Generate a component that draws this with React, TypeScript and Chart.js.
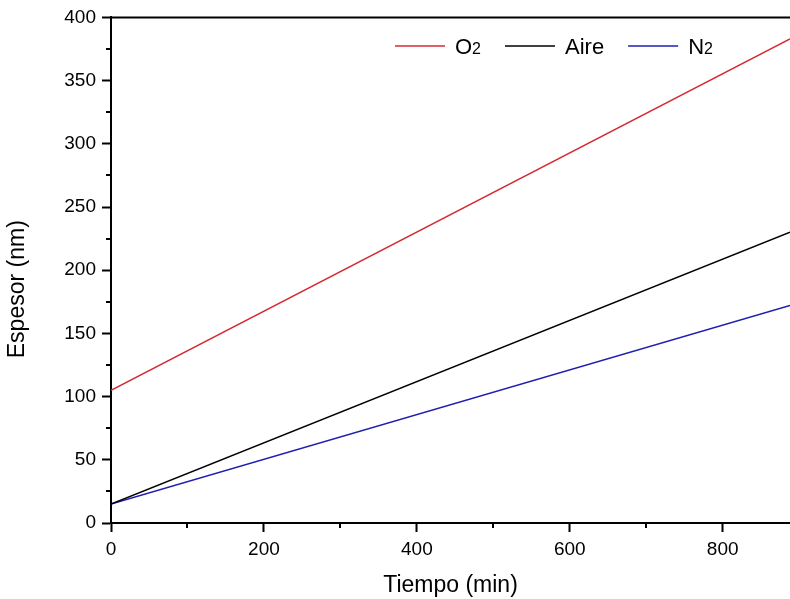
import React, { useEffect, useRef } from "react";
import { Chart, registerables } from "chart.js";

Chart.register(...registerables);

// Data
const timeMin = [0, 888];
const o2Thickness = [105, 383];
const aireThickness = [15, 230];
const n2Thickness = [15, 172];
const seriesLabels = ["O₂", "Aire", "N₂"];
const seriesColors = ["#d42a30", "#000000", "#1e1eb0"];
const xMajorTicks = [0, 200, 400, 600, 800];
const xMinorTicks = [100, 300, 500, 700];
const yMajorTicks = [0, 50, 100, 150, 200, 250, 300, 350, 400];
const yMinorTicks = [25, 75, 125, 175, 225, 275, 325, 375];
const xTitle = "Tiempo (min)";
const yTitle = "Espesor (nm)";

const FONT = "'Liberation Sans', Arial, sans-serif";

const framePlugin = {
  id: "frameAndLegend",
  afterDraw(chart: any) {
    const { ctx, chartArea, scales } = chart;
    const { left, top, right, bottom } = chartArea;
    const x = scales.x;
    const y = scales.y;
    ctx.save();
    ctx.strokeStyle = "#000";
    ctx.lineWidth = 2;
    ctx.beginPath();
    for (const v of xMinorTicks) {
      const px = Math.round(x.getPixelForValue(v));
      ctx.moveTo(px, bottom);
      ctx.lineTo(px, bottom + 5);
    }
    for (const v of yMinorTicks) {
      const py = Math.round(y.getPixelForValue(v));
      ctx.moveTo(left - 5, py);
      ctx.lineTo(left, py);
    }
    // top frame line
    ctx.moveTo(left - 1, top);
    ctx.lineTo(right, top);
    ctx.stroke();

    // y axis title
    ctx.save();
    ctx.translate(18, (top + bottom) / 2 + 19);
    ctx.rotate(-Math.PI / 2);
    ctx.fillStyle = "#000";
    ctx.font = `23px ${FONT}`;
    ctx.textAlign = "center";
    ctx.textBaseline = "middle";
    ctx.fillText(yTitle, 0, 0);
    ctx.restore();

    // legend
    const ly = 46;
    let lx = 395;
    chart.data.datasets.forEach((ds: any) => {
      ctx.strokeStyle = ds.borderColor;
      ctx.lineWidth = 1.5;
      ctx.beginPath();
      ctx.moveTo(lx, ly);
      ctx.lineTo(lx + 50, ly);
      ctx.stroke();
      lx += 60;
      ctx.fillStyle = "#000";
      ctx.textBaseline = "alphabetic";
      ctx.textAlign = "left";
      const label: string = ds.label;
      const baseline = ly + 8;
      for (const ch of label) {
        if (ch === "₂") {
          ctx.font = `16px ${FONT}`;
          ctx.fillText("2", lx, baseline);
          lx += ctx.measureText("2").width;
        } else {
          ctx.font = `22px ${FONT}`;
          ctx.fillText(ch, lx, baseline);
          lx += ctx.measureText(ch).width;
        }
      }
      lx += 24;
    });
    ctx.restore();
  },
};

export default function App() {
  const ref = useRef<HTMLCanvasElement | null>(null);
  useEffect(() => {
    if (!ref.current) return;
    const mk = (label: string, data: number[], color: string) => ({
      label,
      data: timeMin.map((t, i) => ({ x: t, y: data[i] })),
      borderColor: color,
      backgroundColor: color,
      borderWidth: 1.5,
      pointRadius: 0,
      tension: 0,
      fill: false,
    });
    const chart = new Chart(ref.current, {
      type: "line",
      data: {
        datasets: [
          mk(seriesLabels[0], o2Thickness, seriesColors[0]),
          mk(seriesLabels[1], aireThickness, seriesColors[1]),
          mk(seriesLabels[2], n2Thickness, seriesColors[2]),
        ],
      },
      options: {
        responsive: false,
        animation: false,
        layout: { padding: { top: 17, right: 0, left: 0, bottom: 0 } },
        plugins: { legend: { display: false }, tooltip: { enabled: false } },
        scales: {
          x: {
            type: "linear",
            min: 0,
            max: 888,
            afterBuildTicks: (s: any) => {
              s.ticks = xMajorTicks.map((v) => ({ value: v }));
            },
            afterFit: (s: any) => {
              s.height = 76;
            },
            grid: {
              drawOnChartArea: false,
              drawTicks: true,
              tickLength: 9,
              tickWidth: 2,
              tickColor: "#000",
            },
            border: { display: true, color: "#000", width: 2 },
            ticks: {
              color: "#000",
              font: { family: FONT, size: 19 },
              padding: 6,
              maxRotation: 0,
            },
            title: {
              display: true,
              text: xTitle,
              color: "#000",
              font: { family: FONT, size: 23 },
              padding: { top: 2, bottom: 0 },
            },
          },
          y: {
            type: "linear",
            min: 0,
            max: 400,
            afterBuildTicks: (s: any) => {
              s.ticks = yMajorTicks.map((v) => ({ value: v }));
            },
            afterFit: (s: any) => {
              s.width = 111;
            },
            grid: {
              drawOnChartArea: false,
              drawTicks: true,
              tickLength: 9,
              tickWidth: 2,
              tickColor: "#000",
            },
            border: { display: true, color: "#000", width: 2 },
            ticks: {
              color: "#000",
              font: { family: FONT, size: 19 },
              padding: 6,
            },
            title: { display: false },
          },
        },
      },
      plugins: [framePlugin],
    } as any);
    return () => chart.destroy();
  }, []);
  return (
    <div style={{ position: "fixed", left: 0, top: 0, width: 790, height: 599, background: "#fff" }}>
      <canvas ref={ref} width={790} height={599} />
    </div>
  );
}
